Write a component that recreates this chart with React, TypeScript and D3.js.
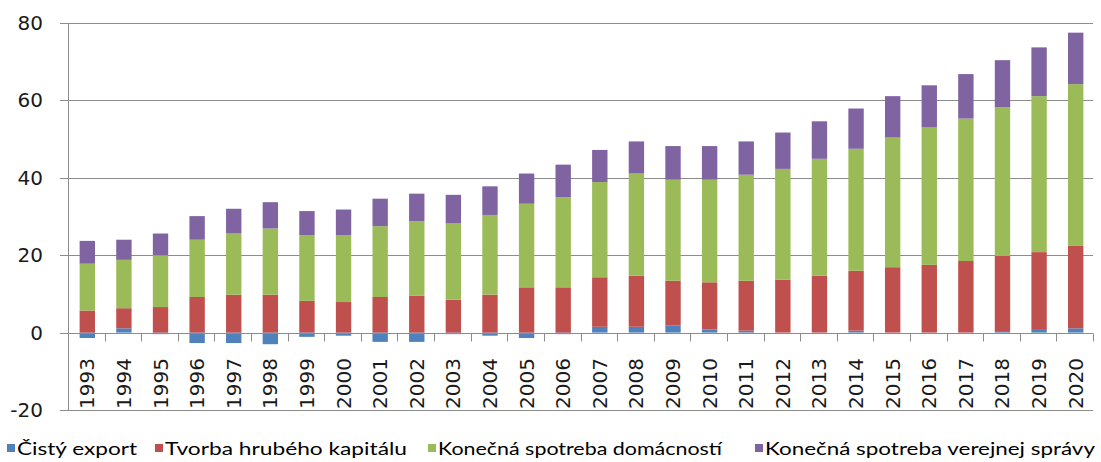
import React, { useEffect, useRef } from 'react';
import * as d3 from 'd3';

const years = [
  '1993', '1994', '1995', '1996', '1997', '1998', '1999', '2000', '2001', '2002',
  '2003', '2004', '2005', '2006', '2007', '2008', '2009', '2010', '2011', '2012',
  '2013', '2014', '2015', '2016', '2017', '2018', '2019', '2020'
];

const netExport = [
  -1.4, 1.1, -0.4, -2.7, -2.7, -3.0, -1.1, -0.8, -2.4, -2.4,
  -0.4, -0.8, -1.4, -0.4, 1.5, 1.5, 1.8, 0.8, 0.5, 0,
  0, 0.5, 0, 0, 0, 0.4, 0.7, 1.1
];
const grossCapital = [
  5.7, 5.2, 6.6, 9.2, 9.8, 9.8, 8.2, 7.9, 9.2, 9.5,
  8.5, 9.8, 11.7, 11.7, 12.8, 13.2, 11.6, 12.2, 12.9, 13.7,
  14.7, 15.5, 16.9, 17.5, 18.5, 19.4, 20.1, 21.3
];
const households = [
  12.1, 12.5, 13.4, 14.8, 15.8, 17.1, 17.0, 17.3, 18.3, 19.3,
  19.7, 20.6, 21.6, 23.3, 24.6, 26.4, 26.1, 26.5, 27.4, 28.6,
  30.2, 31.5, 33.5, 35.5, 36.8, 38.4, 40.3, 41.8
];
const government = [
  5.9, 5.2, 5.6, 6.1, 6.4, 6.8, 6.2, 6.6, 7.1, 7.1,
  7.4, 7.4, 7.8, 8.4, 8.3, 8.3, 8.7, 8.7, 8.6, 9.4,
  9.7, 10.4, 10.7, 10.9, 11.5, 12.2, 12.6, 13.3
];

const seriesNames = [
  'Čistý export',
  'Tvorba hrubého kapitálu',
  'Konečná spotreba domácností',
  'Konečná spotreba verejnej správy'
];
const colors = ['#4F81BD', '#C0504D', '#9BBB59', '#8064A2'];
const yTicks = [-20, 0, 20, 40, 60, 80];

const App = () => {
  const svgRef = useRef(null);

  useEffect(() => {
    const width = 1101;
    const height = 462;
    const left = 68;
    const right = 1093;
    const top = 23;
    const bottom = 410;

    const svg = d3.select(svgRef.current);
    svg.selectAll('*').remove();

    const rows = years.map((y, i) => ({
      year: y,
      s0: netExport[i],
      s1: grossCapital[i],
      s2: households[i],
      s3: government[i]
    }));

    const stack = d3.stack()
      .keys(['s0', 's1', 's2', 's3'])
      .offset(d3.stackOffsetDiverging);
    const layers = stack(rows);

    const x = d3.scaleBand().domain(years).range([left, right]).padding(0);
    const y = d3.scaleLinear().domain([-20, 80]).range([bottom, top]);
    const barW = x.bandwidth() * 0.42;

    svg.append('rect')
      .attr('width', width)
      .attr('height', height)
      .attr('fill', '#fff');

    // grid lines
    svg.append('g')
      .selectAll('line')
      .data(yTicks.filter(t => t !== 0))
      .enter()
      .append('line')
      .attr('x1', left - 8)
      .attr('x2', right)
      .attr('y1', d => Math.round(y(d)) + 0.5)
      .attr('y2', d => Math.round(y(d)) + 0.5)
      .attr('stroke', '#8c8c8c')
      .attr('stroke-width', 1);

    // bars
    svg.append('g')
      .selectAll('g')
      .data(layers)
      .enter()
      .append('g')
      .attr('fill', (d, i) => colors[i])
      .selectAll('rect')
      .data(d => d)
      .enter()
      .append('rect')
      .attr('x', d => x(d.data.year) + (x.bandwidth() - barW) / 2 + 1)
      .attr('width', barW)
      .attr('y', d => y(Math.max(d[0], d[1])))
      .attr('height', d => Math.abs(y(d[0]) - y(d[1])));

    // y axis line
    svg.append('line')
      .attr('x1', left + 0.5)
      .attr('x2', left + 0.5)
      .attr('y1', y(80))
      .attr('y2', y(-20))
      .attr('stroke', '#8c8c8c');

    // zero axis with category ticks
    const zy = Math.round(y(0)) + 0.5;
    svg.append('line')
      .attr('x1', left - 8)
      .attr('x2', right)
      .attr('y1', zy)
      .attr('y2', zy)
      .attr('stroke', '#8c8c8c');

    svg.append('g')
      .selectAll('line')
      .data(years.slice(1).concat(['end']))
      .enter()
      .append('line')
      .attr('x1', (d, i) => Math.round(left + x.step() * (i + 1)) + 0.5)
      .attr('x2', (d, i) => Math.round(left + x.step() * (i + 1)) + 0.5)
      .attr('y1', zy)
      .attr('y2', zy + 8)
      .attr('stroke', '#8c8c8c');

    // y tick labels
    svg.append('g')
      .selectAll('text')
      .data(yTicks)
      .enter()
      .append('text')
      .attr('x', 43)
      .attr('y', d => y(d) + 7)
      .attr('text-anchor', 'end')
      .attr('font-family', 'DejaVu Sans')
      .attr('font-size', '20px')
      .attr('fill', '#1a1a1a')
      .text(d => d);

    // year labels
    svg.append('g')
      .selectAll('text')
      .data(years)
      .enter()
      .append('text')
      .attr('transform', d => `translate(${x(d) + x.bandwidth() / 2 + 8},358) rotate(-90)`)
      .attr('text-anchor', 'end')
      .attr('font-family', 'DejaVu Sans')
      .attr('font-size', '20px')
      .attr('fill', '#1a1a1a')
      .text(d => d);

    // legend
    const legendX = [7, 155, 428, 755];
    const legendW = [120, 242, 284, 330];
    const legend = svg.append('g');
    seriesNames.forEach((name, i) => {
      legend.append('rect')
        .attr('x', legendX[i])
        .attr('y', 444)
        .attr('width', 8)
        .attr('height', 8)
        .attr('fill', colors[i]);
      legend.append('text')
        .attr('x', legendX[i] + 10)
        .attr('y', 455)
        .attr('font-family', 'Lato')
        .attr('font-size', '18px')
        .attr('fill', '#000')
        .attr('textLength', legendW[i])
        .attr('lengthAdjust', 'spacingAndGlyphs')
        .text(name);
    });
  }, []);

  return (
    <svg
      ref={svgRef}
      width={1101}
      height={462}
      style={{ position: 'absolute', left: 0, top: 0, display: 'block' }}
    ></svg>
  );
};

export default App;
